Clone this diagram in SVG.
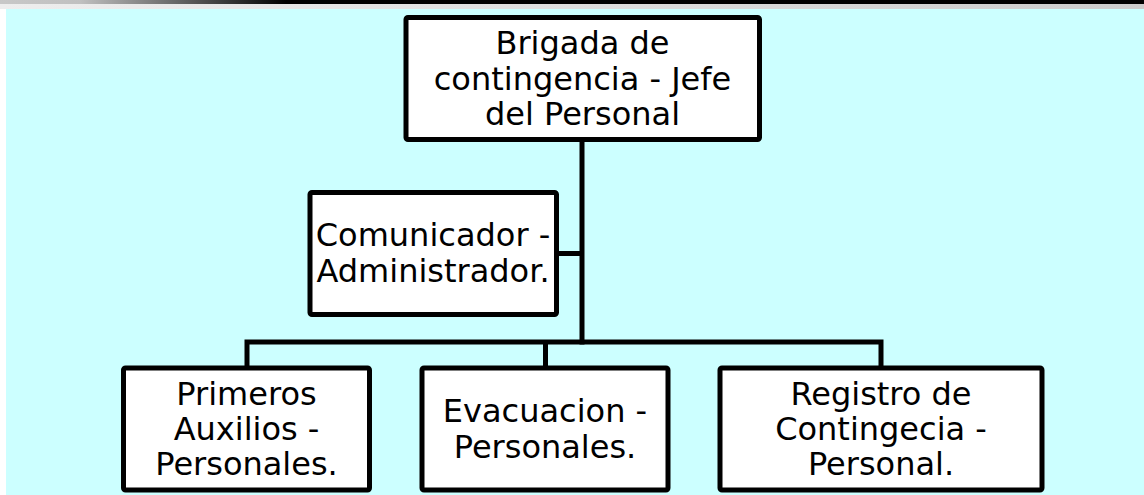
<svg xmlns="http://www.w3.org/2000/svg" width="1144" height="495" viewBox="0 0 1144 495">
  <defs>
    <linearGradient id="topbar" x1="0" y1="0" x2="1144" y2="0" gradientUnits="userSpaceOnUse">
      <stop offset="0" stop-color="#c8c8c8"/>
      <stop offset="0.07" stop-color="#c0c0c0"/>
      <stop offset="0.25" stop-color="#000000"/>
      <stop offset="1" stop-color="#000000"/>
    </linearGradient>
    <linearGradient id="subbar" x1="0" y1="0" x2="1144" y2="0" gradientUnits="userSpaceOnUse">
      <stop offset="0" stop-color="#eeeeee"/>
      <stop offset="1" stop-color="#cccccc"/>
    </linearGradient>
  </defs>
  <style>
    .box { fill: #ffffff; stroke: #000000; stroke-width: 5; }
    .conn { fill: none; stroke: #000000; stroke-width: 5; stroke-linejoin: miter; }
    .lbl { font-family: "DejaVu Sans", Verdana, sans-serif; font-size: 32px; fill: #000000; text-anchor: middle; }
  </style>
  <rect x="0" y="0" width="1144" height="495" fill="#ffffff"/>
  <rect x="0" y="0" width="1144" height="4" fill="url(#topbar)"/>
  <rect x="0" y="4" width="1144" height="5" fill="url(#subbar)"/>
  <rect x="6" y="9" width="1138" height="486" fill="#ccffff"/>

  <g id="connectors">
    <line class="conn" x1="582" y1="139.5" x2="582" y2="344.5"/>
    <line class="conn" x1="556.5" y1="253.5" x2="582" y2="253.5"/>
    <path class="conn" d="M247 368 V342 H881 V368"/>
    <line class="conn" x1="545.5" y1="342" x2="545.5" y2="368"/>
  </g>

  <g id="node-jefe">
    <rect class="box" x="406" y="17.5" width="353.5" height="122" rx="2"/>
    <text class="lbl" x="582.5" y="54">Brigada de</text>
    <text class="lbl" x="582.5" y="90">contingencia - Jefe</text>
    <text class="lbl" x="582.5" y="125">del Personal</text>
  </g>

  <g id="node-comunicador">
    <rect class="box" x="310" y="192.5" width="246.5" height="122" rx="2"/>
    <text class="lbl" x="433" y="245.5">Comunicador -</text>
    <text class="lbl" x="433" y="281.5">Administrador.</text>
  </g>

  <g id="node-primeros">
    <rect class="box" x="123.5" y="368" width="246" height="122" rx="2"/>
    <text class="lbl" x="246.5" y="405">Primeros</text>
    <text class="lbl" x="246.5" y="440">Auxilios -</text>
    <text class="lbl" x="246.5" y="475">Personales.</text>
  </g>

  <g id="node-evacuacion">
    <rect class="box" x="422" y="368" width="246" height="122" rx="2"/>
    <text class="lbl" x="545" y="421.5">Evacuacion -</text>
    <text class="lbl" x="545" y="457.5">Personales.</text>
  </g>

  <g id="node-registro">
    <rect class="box" x="720" y="368" width="322" height="122" rx="2"/>
    <text class="lbl" x="881" y="405">Registro de</text>
    <text class="lbl" x="881" y="440">Contingecia -</text>
    <text class="lbl" x="881" y="475">Personal.</text>
  </g>
</svg>
